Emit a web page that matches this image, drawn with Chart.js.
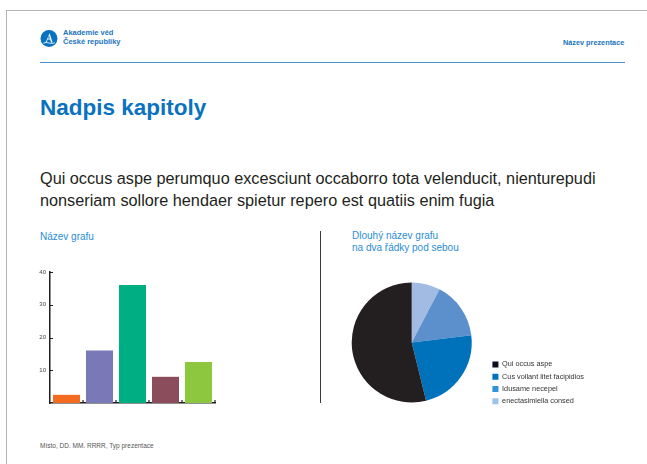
<!DOCTYPE html>
<html lang="cs">
<head>
<meta charset="utf-8">
<script src="https://cdn.jsdelivr.net/npm/chart.js@4/dist/chart.umd.min.js"></script>
<style>
  html, body { margin: 0; padding: 0; background: #fff; }
  body { width: 647px; height: 464px; position: relative; overflow: hidden;
         font-family: "Liberation Sans", Arial, sans-serif; }
  .abs { position: absolute; white-space: nowrap; }
  #frameTop { left: 6px; top: 10px; width: 641px; height: 1px; background: #b4b4b4; }
  #frameLeft { left: 6px; top: 10px; width: 1px; height: 454px; background: #b4b4b4; }
  #logo { left: 40px; top: 30px; }
  #org { left: 63px; top: 28px; font-size: 7.5px; line-height: 9px; font-weight: bold; color: #1c75bc; }
  #pres { left: 563px; top: 38px; font-size: 7.3px; font-weight: bold; color: #1c75bc; }
  #rule { left: 40px; top: 62px; width: 585px; height: 1px; background: #4a90d0; }
  #title { left: 40px; top: 95px; font-size: 22.5px; font-weight: bold; color: #0a72c0; }
  #lead { left: 40px; top: 167px; font-size: 16.25px; line-height: 22px; color: #231f20; }
  .ctitle { font-size: 10px; line-height: 12px; color: #2a8dd4; }
  #barTitle { left: 40px; top: 231px; }
  #pieTitle { left: 352px; top: 230px; }
  #sep { left: 320px; top: 231px; width: 1px; height: 172px; background: #3a3a3a; }
  #foot { left: 40px; top: 442px; font-size: 6.5px; color: #555; }
  #barBox { left: 30px; top: 262px; width: 190px; height: 150px; }
  #pieBox { left: 336px; top: 270px; width: 258px; height: 140px; }
</style>
</head>
<body>
<div class="abs" id="frameTop"></div>
<div class="abs" id="frameLeft"></div>

<svg class="abs" id="logo" width="18" height="18" viewBox="0 0 18 18">
  <circle cx="9" cy="8.5" r="8.5" fill="#0a72c0"/>
  <path d="M9.6 3.2 L12.6 12.4 L11.0 12.4 L10.2 9.6 L7.6 9.6 L6.6 12.4 L5.6 12.4 Z M8.0 8.4 L9.9 8.4 L9.1 5.6 Z" fill="#fff"/>
  <path d="M3.2 13.2 Q6 11.8 9 13.0 Q12 14.0 14.8 12.8" stroke="#fff" stroke-width="0.8" fill="none"/>
</svg>
<div class="abs" id="org">Akademie věd<br>České republiky</div>
<div class="abs" id="pres">Název prezentace</div>
<div class="abs" id="rule"></div>

<div class="abs" id="title">Nadpis kapitoly</div>
<div class="abs" id="lead">Qui occus aspe perumquo excesciunt occaborro tota velenducit, nienturepudi<br>nonseriam sollore hendaer spietur repero est quatiis enim fugia</div>

<div class="abs ctitle" id="barTitle">Název grafu</div>
<div class="abs ctitle" id="pieTitle">Dlouhý název grafu<br>na dva řádky pod sebou</div>
<div class="abs" id="sep"></div>

<div class="abs" id="barBox"><canvas id="barChart"></canvas></div>
<div class="abs" id="pieBox"><canvas id="pieChart"></canvas></div>

<div class="abs" id="foot">Místo, DD. MM. RRRR, Typ prezentace</div>

<script>
// bar chart data
var barCategories = ["Položka 1", "Položka 2", "Položka 3", "Položka 4", "Položka 5"];
var barValues = [2.5, 16, 36, 8, 12.5];
var barColors = ["#f26b21", "#7b78b8", "#00ae84", "#8b4d5c", "#8dc63f"];
var yTicksMax = 40;
var yTicksStep = 10;

// pie chart data (legend order)
var pieLabels = ["Qui occus aspe", "Cus vollant litet facipidios", "Idusame necepel", "enectasimiella consed"];
var pieValues = [7, 3, 2, 1];
var pieColors = ["#231f20", "#0072bc", "#5b90cd", "#a2bbe3"];
var pieLegendColors = ["#0d0d1f", "#0072bc", "#2e96d6", "#9dc3eb"];

Chart.defaults.font.family = '"Liberation Sans", Arial, sans-serif';
Chart.defaults.animation = false;

// short tick marks drawn inside the plot, on the axis lines
var innerTicks = {
  id: "innerTicks",
  afterDraw: function (chart) {
    var ctx = chart.ctx, x = chart.scales.x, y = chart.scales.y;
    ctx.save();
    ctx.strokeStyle = "#231f20";
    ctx.lineWidth = 1.2;
    ctx.beginPath();
    y.ticks.forEach(function (t) {
      if (t.value === 0) return;
      var py = Math.round(y.getPixelForValue(t.value)) + 0.5;
      ctx.moveTo(x.left, py);
      ctx.lineTo(x.left + 3, py);
    });
    var half = (x.getPixelForValue(1) - x.getPixelForValue(0)) / 2;
    for (var i = 0; i < barCategories.length; i++) {
      var px = x.getPixelForValue(i) + half;
      ctx.moveTo(px, y.bottom);
      ctx.lineTo(px, y.bottom - 3);
    }
    ctx.stroke();
    ctx.restore();
  }
};

new Chart(document.getElementById("barChart"), {
  type: "bar",
  plugins: [innerTicks],
  data: {
    labels: barCategories,
    datasets: [{
      data: barValues,
      backgroundColor: barColors,
      borderWidth: 0,
      categoryPercentage: 1,
      barPercentage: 0.82
    }]
  },
  options: {
    responsive: true,
    maintainAspectRatio: false,
    layout: { padding: { top: 10, right: 5, left: 0, bottom: 0 } },
    plugins: { legend: { display: false }, tooltip: { enabled: false } },
    scales: {
      x: {
        grid: { display: false, drawTicks: false },
        border: { color: "#231f20", width: 1.5 },
        ticks: { display: false },
        afterFit: function (s) { s.height = 9; }
      },
      y: {
        min: 0,
        max: yTicksMax,
        grid: { display: false, drawTicks: false },
        border: { color: "#231f20", width: 1.5 },
        ticks: {
          stepSize: yTicksStep,
          padding: 4,
          color: "#444",
          font: { size: 6 },
          callback: function (v) { return v === 0 ? "" : v; }
        },
        afterFit: function (s) { s.width = 20; }
      }
    }
  }
});

// slices go clockwise from the top in reverse legend order
new Chart(document.getElementById("pieChart"), {
  type: "pie",
  data: {
    labels: pieLabels.slice().reverse(),
    datasets: [{
      data: pieValues.slice().reverse(),
      backgroundColor: pieColors.slice().reverse(),
      borderWidth: 0
    }]
  },
  options: {
    responsive: true,
    maintainAspectRatio: false,
    radius: 60,
    layout: { padding: { top: 5, bottom: 0, left: 0, right: 0 } },
    plugins: {
      tooltip: { enabled: false },
      legend: {
        position: "right",
        align: "end",
        reverse: true,
        labels: {
          boxWidth: 6,
          boxHeight: 6,
          padding: 5,
          color: "#333",
          font: { size: 7.3 },
          generateLabels: function (chart) {
            var n = pieLabels.length;
            return chart.data.labels.map(function (lab, i) {
              return {
                text: lab,
                fillStyle: pieLegendColors[n - 1 - i],
                strokeStyle: pieLegendColors[n - 1 - i],
                lineWidth: 0,
                fontColor: "#333",
                index: i
              };
            });
          }
        }
      }
    }
  }
});
</script>
</body>
</html>
